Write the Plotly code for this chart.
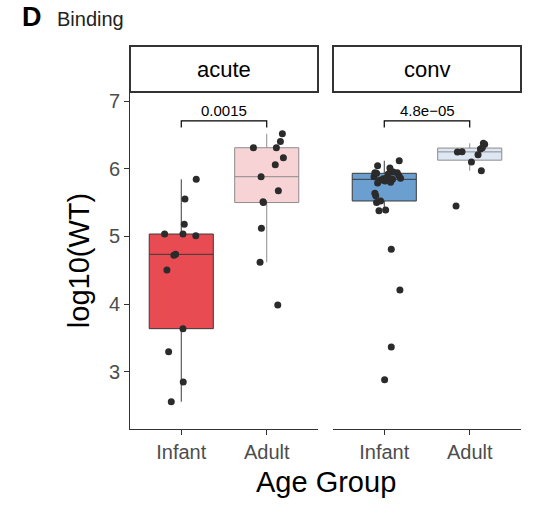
import numpy as np
import plotly.graph_objects as go
from plotly.subplots import make_subplots

# ---------------- data ----------------
panels = ["acute", "conv"]
groups = ["Infant", "Adult"]
p_labels = ["0.0015", "4.8e\u221205"]

acute_infant = [5.843, 5.553, 5.178, 5.035, 5.035, 5.01, 4.735, 4.72, 4.504,
                3.637, 3.297, 2.849, 2.558]
acute_infant_jit = [0.175, 0.043, 0.035, -0.195, 0.02, 0.17, -0.066, -0.086,
                    -0.168, 0.02, -0.148, 0.023, -0.117]

acute_adult = [6.517, 6.40, 6.31, 6.31, 6.163, 6.06, 5.882, 5.675, 5.51, 5.50,
               5.12, 4.617, 3.987]
acute_adult_jit = [0.183, 0.16, -0.156, 0.113, 0.195, 0.10, -0.066, 0.136,
                   -0.043, -0.039, -0.062, -0.078, 0.129]

conv_infant = [2.884, 3.366, 4.208, 4.81, 5.38, 5.39, 5.50, 5.523, 5.60, 5.637,
               5.79, 5.80, 5.82, 5.83, 5.843, 5.85, 5.86, 5.87, 5.88, 5.90,
               5.92, 5.932, 5.94, 5.94, 5.95, 5.96, 6.01, 6.044, 6.118]
conv_infant_jit = [0.004, 0.082, 0.183, 0.082, -0.062, 0.016, -0.09, -0.043,
                   -0.10, -0.11, -0.078, 0.074, 0.008, -0.05, 0.097, -0.012,
                   0.19, 0.027, -0.12, 0.17, 0.047, -0.09, -0.11, 0.152, 0.105,
                   0.078, 0.066, -0.078, 0.175]

conv_adult = [5.449, 5.97, 6.099, 6.207, 6.247, 6.25, 6.29, 6.31, 6.36, 6.375]
conv_adult_jit = [-0.16, 0.136, 0.02, 0.097, -0.144, -0.09, 0.125, 0.148,
                  0.175, 0.16]

y_ticks = [3, 4, 5, 6, 7]

data = {
    ("acute", "Infant"): (acute_infant, acute_infant_jit),
    ("acute", "Adult"): (acute_adult, acute_adult_jit),
    ("conv", "Infant"): (conv_infant, conv_infant_jit),
    ("conv", "Adult"): (conv_adult, conv_adult_jit),
}

fills = {
    ("acute", "Infant"): "#E84B52",
    ("acute", "Adult"): "#F8D3D5",
    ("conv", "Infant"): "#6A9FD0",
    ("conv", "Adult"): "#DCE7F3",
}
line_cols = {"Infant": "#3A3A3A", "Adult": "#8C8C8C"}

FONT = "Liberation Sans, Arial, Helvetica, sans-serif"


def stats(v):
    a = np.asarray(v, dtype=float)
    q1, med, q3 = np.percentile(a, [25, 50, 75])
    iqr = q3 - q1
    lo = a[a >= q1 - 1.5 * iqr].min()
    hi = a[a <= q3 + 1.5 * iqr].max()
    return q1, med, q3, lo, hi


fig = make_subplots(rows=1, cols=2, shared_yaxes=True, horizontal_spacing=0.0384)

for ci, panel in enumerate(panels, start=1):
    for gi, grp in enumerate(groups, start=1):
        vals, jit = data[(panel, grp)]
        q1, med, q3, lo, hi = stats(vals)
        fig.add_trace(go.Box(
            x=[gi], q1=[q1], median=[med], q3=[q3],
            lowerfence=[lo], upperfence=[hi],
            width=0.75, whiskerwidth=0,
            fillcolor=fills[(panel, grp)],
            line=dict(color=line_cols[grp], width=1),
            boxpoints=False, showlegend=False, hoverinfo="skip",
        ), row=1, col=ci)
    for gi, grp in enumerate(groups, start=1):
        vals, jit = data[(panel, grp)]
        fig.add_trace(go.Scatter(
            x=[gi + j for j in jit], y=vals, mode="markers",
            marker=dict(color="#2B2B2B", size=7),
            showlegend=False, hoverinfo="skip",
        ), row=1, col=ci)

# significance brackets
all_max = max(max(v) for v, _ in data.values())
br_y = all_max + 0.19
tip = 0.10
for ci, lab in enumerate(p_labels, start=1):
    xr = "x" if ci == 1 else "x2"
    yr = "y" if ci == 1 else "y2"
    fig.add_shape(type="path",
                  path=f"M 1,{br_y - tip} L 1,{br_y} L 2,{br_y} L 2,{br_y - tip}",
                  xref=xr, yref=yr, line=dict(color="black", width=1.2))
    fig.add_annotation(x=1.5, y=br_y, xref=xr, yref=yr, text=lab,
                       showarrow=False, xanchor="center", yanchor="bottom", yshift=0,
                       font=dict(family=FONT, size=15, color="black"))

# strips
doms = [(0.0, 188 / 391), (203 / 391, 1.0)]
strip_top = (429 - 46) / 337
for (d0, d1), panel in zip(doms, panels):
    fig.add_shape(type="rect", xref="paper", yref="paper",
                  x0=d0, x1=d1, y0=1.0, y1=strip_top,
                  line=dict(color="#333333", width=2), fillcolor="white")
    fig.add_annotation(x=(d0 + d1) / 2, y=(1.0 + strip_top) / 2,
                       xref="paper", yref="paper", text=panel,
                       showarrow=False, xanchor="center", yanchor="middle",
                       font=dict(family=FONT, size=22, color="black"))

# titles
fig.add_annotation(x=(20 - 130) / 391, y=(429 - 17) / 337, xref="paper", yref="paper",
                   text="<b>D</b>", showarrow=False, xanchor="left", yanchor="middle",
                   font=dict(family=FONT, size=27, color="black"))
fig.add_annotation(x=(55 - 130) / 391, y=(429 - 19) / 337, xref="paper", yref="paper",
                   text="Binding", showarrow=False, xanchor="left", yanchor="middle",
                   font=dict(family=FONT, size=20, color="#222222"))
fig.add_annotation(x=0.5, y=(429 - 482) / 337, xref="paper", yref="paper",
                   text="Age Group", showarrow=False, xanchor="center", yanchor="middle",
                   font=dict(family=FONT, size=29, color="black"))

xcommon = dict(range=[0.4, 2.6], tickvals=[1, 2], ticktext=groups,
               showgrid=False, zeroline=False, showline=True,
               linecolor="#333333", linewidth=1, ticks="outside",
               ticklen=5, tickcolor="#333333",
               tickfont=dict(family=FONT, size=20, color="#4D4D4D"))
fig.update_xaxes(**xcommon)
fig.update_layout(xaxis=dict(domain=list(doms[0])), xaxis2=dict(domain=list(doms[1])))

fig.update_yaxes(range=[2.155, 7.133], tickvals=y_ticks, showgrid=False,
                 zeroline=False, tickfont=dict(family=FONT, size=20, color="#4D4D4D"))
fig.update_layout(yaxis=dict(showline=True, linecolor="#333333", linewidth=1,
                             ticks="outside", ticklen=5, tickcolor="#333333",
                             title=dict(text="log10(WT)", standoff=10,
                                        font=dict(family=FONT, size=29, color="black"))),
                  yaxis2=dict(showline=False, ticks="", showticklabels=False))

fig.update_layout(width=555, height=517,
                  margin=dict(l=130, r=34, t=92, b=88),
                  paper_bgcolor="white", plot_bgcolor="white",
                  font=dict(family=FONT))

fig.write_html("out.html")
